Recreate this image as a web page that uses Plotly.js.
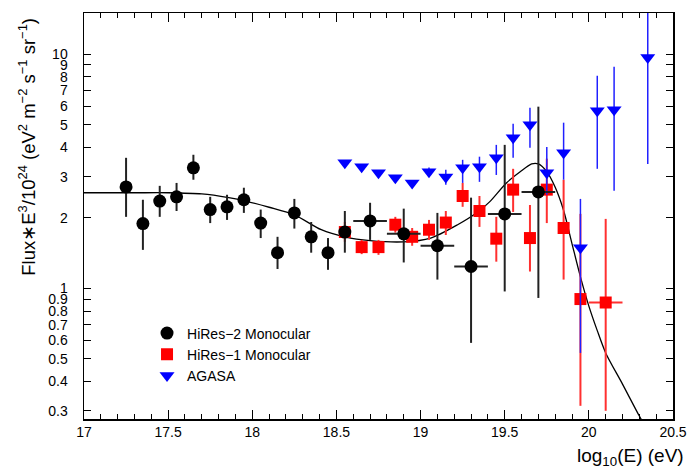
<!DOCTYPE html>
<html>
<head>
<meta charset="utf-8">
<script src="https://cdn.plot.ly/plotly-3.0.1.min.js"></script>
<style>html,body{margin:0;padding:0;background:#fff;}#chart{width:693px;height:470px;}</style>
</head>
<body>
<div id="chart"></div>
<script>
// HiRes-2 Monocular (black circles)
const hr2X   = [17.25,17.35,17.45,17.55,17.65,17.75,17.85,17.95,18.05,18.15,18.25,18.35,18.45,18.55,18.7,18.9,19.1,19.3,19.5,19.7];
const hr2Y   = [2.71,1.89,2.36,2.46,3.27,2.17,2.23,2.39,1.90,1.42,2.10,1.66,1.42,1.74,1.94,1.71,1.52,1.24,2.08,2.58];
const hr2Hi  = [3.61,2.39,2.74,2.82,3.72,2.46,2.51,2.69,2.17,1.66,2.41,1.92,1.64,2.14,2.32,2.19,2.10,2.44,4.10,5.97];
const hr2Lo  = [2.02,1.46,2.02,2.14,2.91,1.90,1.96,2.10,1.64,1.21,1.80,1.42,1.20,1.42,1.61,1.29,1.09,0.585,0.97,0.91];
const hr2Xe  = [0,0,0,0,0,0,0,0,0,0,0,0,0,0,0.1,0.1,0.1,0.1,0.1,0.1];

// HiRes-1 Monocular (red squares)
const hr1X   = [18.55,18.65,18.75,18.85,18.95,19.05,19.15,19.25,19.35,19.45,19.55,19.65,19.75,19.85,19.95,20.1];
const hr1Y   = [1.74,1.50,1.50,1.87,1.66,1.78,1.91,2.48,2.14,1.63,2.64,1.64,2.64,1.81,0.90,0.87];
const hr1Hi  = [1.92,1.61,1.61,2.02,1.81,1.96,2.14,2.82,2.48,2.02,3.24,2.27,3.58,2.91,2.08,1.98];
const hr1Lo  = [1.58,1.40,1.39,1.73,1.52,1.61,1.69,2.23,1.83,1.30,2.12,1.18,1.90,1.09,0.315,0.30];
const hr1Xe  = [0,0,0,0,0,0,0,0,0,0,0,0,0,0,0,0.1];

// AGASA (blue triangles)
const agX    = [18.55,18.65,18.75,18.85,18.95,19.05,19.15,19.25,19.35,19.45,19.55,19.65,19.75,19.85,19.95,20.05,20.15,20.35];
const agY    = [3.44,3.31,3.12,2.97,2.82,3.15,2.99,3.27,3.31,3.61,4.40,5.00,3.12,3.79,1.49,5.74,5.79,9.67];
const agHi   = [3.46,3.33,3.14,2.99,2.84,3.28,3.21,3.54,3.65,4.10,5.05,5.91,4.02,5.10,2.41,8.09,8.84,20];
const agLo   = [3.42,3.29,3.10,2.95,2.80,3.02,2.77,2.82,2.85,3.05,3.61,3.99,2.51,2.91,0.53,3.24,2.61,3.40];

// Fit curve
const fitX   = [17.0,17.3,17.5,17.7,17.86,17.96,18.1,18.25,18.41,18.55,18.7,18.9,19.06,19.22,19.34,19.41,19.51,19.59,19.66,19.70,19.75,19.80,19.85,19.90,19.95,20.0,20.05,20.1,20.2,20.3,20.36];
const fitY   = [2.56,2.56,2.56,2.53,2.44,2.36,2.22,2.06,1.78,1.66,1.60,1.58,1.64,1.87,2.12,2.34,2.82,3.14,3.40,3.40,3.15,2.70,2.15,1.55,1.12,0.84,0.66,0.53,0.39,0.285,0.24];

const xTicks = [17,17.5,18,18.5,19,19.5,20,20.5];
const yTicks = [0.3,0.4,0.5,0.6,0.7,0.8,0.9,1,2,3,4,5,6,7,8,9,10];
const yTickText = ['0.3','0.4','0.5','0.6','0.7','0.8','0.9','1','2','3','4','5','6','7','8','9','10'];

const legendNames = ['HiRes\u22122 Monocular','HiRes\u22121 Monocular','AGASA'];

const plus  = (hi, y) => hi.map((h,i)=>h - y[i]);
const minus = (lo, y) => lo.map((l,i)=>y[i] - l);

const FONT = 'Liberation Sans, Arial, sans-serif';

const traces = [
  {x: fitX, y: fitY, mode:'lines', line:{color:'#000', width:1.3, shape:'spline', smoothing:0.8}, showlegend:false, hoverinfo:'skip'},
  {x: hr1X, y: hr1Y, name: legendNames[1], legendrank: 2, mode:'markers',
   marker:{symbol:'square', color:'#ff0000', size:12},
   error_y:{type:'data', symmetric:false, array: plus(hr1Hi,hr1Y), arrayminus: minus(hr1Lo,hr1Y), color:'#ff3030', thickness:2, width:0},
   error_x:{type:'data', array: hr1Xe, color:'#ff3030', thickness:2, width:0}},
  {x: agX, y: agY, name: legendNames[2], legendrank: 3, mode:'markers',
   marker:{symbol:'triangle-down', color:'#0000ff', size:13},
   error_y:{type:'data', symmetric:false, array: plus(agHi,agY), arrayminus: minus(agLo,agY), color:'#2020ff', thickness:1.5, width:0}},
  {x: hr2X, y: hr2Y, name: legendNames[0], legendrank: 1, mode:'markers',
   marker:{symbol:'circle', color:'#000', size:13},
   error_y:{type:'data', symmetric:false, array: plus(hr2Hi,hr2Y), arrayminus: minus(hr2Lo,hr2Y), color:'#222', thickness:2, width:0},
   error_x:{type:'data', array: hr2Xe, color:'#222', thickness:2, width:0}}
];

const layout = {
  width: 693, height: 470,
  margin: {l:84, r:20, t:13, b:51},
  paper_bgcolor:'#fff', plot_bgcolor:'#fff',
  font: {family: FONT, size: 14, color:'#000'},
  showlegend: true,
  legend: {x:0.107, y:0.25, xanchor:'left', yanchor:'top', bgcolor:'rgba(0,0,0,0)', font:{family:FONT, size:14}, traceorder:'normal'},
  xaxis: {
    range:[17,20.5], tickvals: xTicks, ticks:'inside', ticklen:9, tickwidth:1, tickcolor:'#000',
    showline:true, linecolor:'#000', linewidth:1.5, mirror:'ticks', showgrid:false, zeroline:false,
    tickfont:{family:FONT, size:14},
    minor:{dtick:0.1, ticks:'inside', ticklen:5, tickcolor:'#000', showgrid:false}
  },
  yaxis: {
    type:'log', range:[-0.558,1.176], tickvals: yTicks, ticktext: yTickText,
    ticks:'inside', ticklen:7, tickwidth:1, tickcolor:'#000',
    showline:true, linecolor:'#000', linewidth:1.5, mirror:'ticks', showgrid:false, zeroline:false,
    tickfont:{family:FONT, size:14}, ticklabelstandoff: 12
  },
  annotations: [
    {text:'log<sub>10</sub>(E) (eV)', xref:'paper', yref:'paper', x:1.022, y:-0.094, xanchor:'right', yanchor:'middle', showarrow:false, font:{family:FONT, size:19}},
    {text:'Flux\u2217E<sup>3</sup>/10<sup>24</sup> (eV<sup>2</sup> m<sup>\u22122</sup> s<sup>\u22121</sup> sr<sup>\u22121</sup>)', textangle:-90,
     xref:'paper', yref:'paper', x:-0.097, y:0.993, xanchor:'center', yanchor:'top', showarrow:false, font:{family:FONT, size:18.5}}
  ]
};

Plotly.newPlot('chart', traces, layout, {staticPlot:true, displayModeBar:false});
</script>
</body>
</html>
